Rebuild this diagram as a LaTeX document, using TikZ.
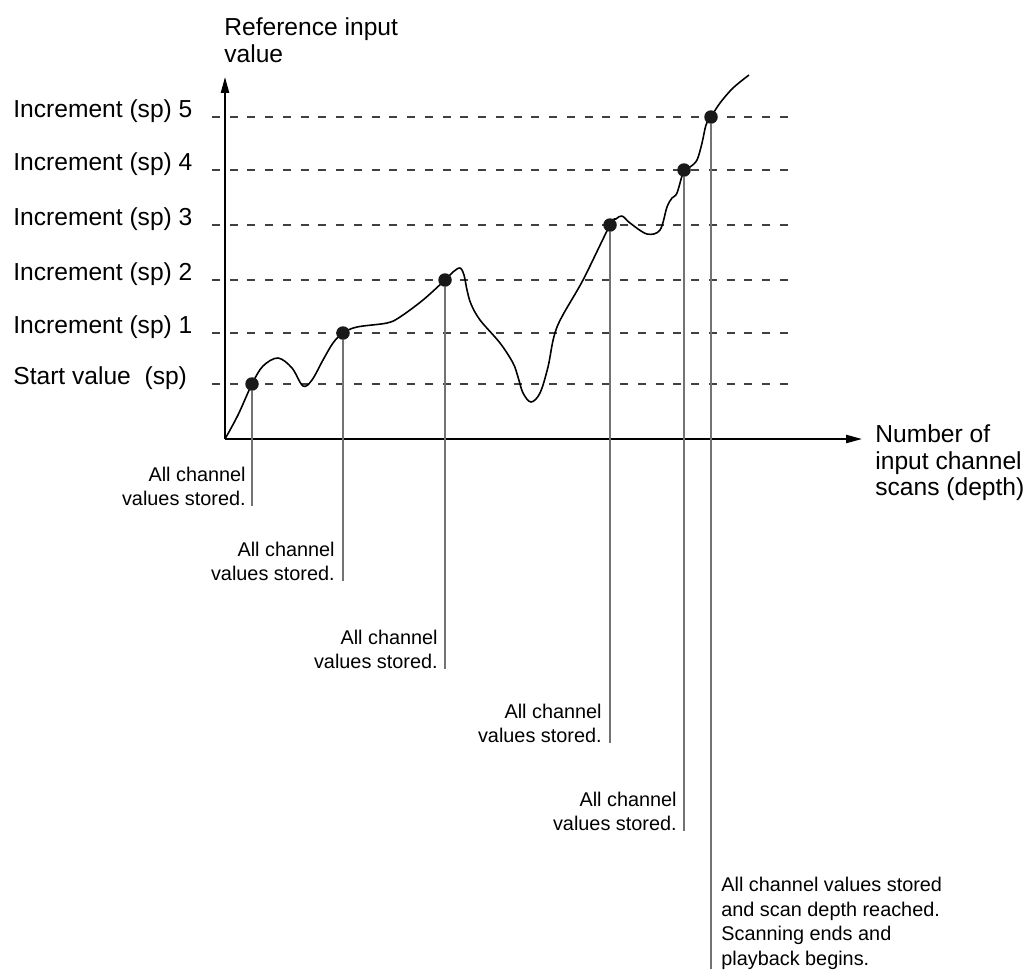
\documentclass[tikz,border=0pt]{standalone}
\usepackage{fontspec}
\setmainfont{Liberation Sans}
\usetikzlibrary{arrows.meta,positioning}

\begin{document}
\begin{tikzpicture}[
    x=0.02cm, y=-0.02cm,
    axis/.style={line width=1pt, -{Triangle[length=9pt, width=4.6pt]}},
    level/.style={dash pattern=on 4.5pt off 5.6pt, line width=1pt, black!75},
    leader/.style={line width=0.6pt, black!55},
    curve/.style={line width=0.9pt, line join=round},
    dot/.style={circle, fill=black!90, inner sep=0pt, minimum size=0.27cm},
    axlabel/.style={inner sep=0pt, font=\fontsize{14}{15.3}\selectfont, align=left},
    lvllabel/.style={inner sep=0pt, font=\fontsize{14}{15.3}\selectfont, anchor=base west},
    note/.style={inner sep=0pt, font=\fontsize{11.3}{13.9}\selectfont, align=right, anchor=south east}
]
\useasboundingbox (0,0) rectangle (1027,974);

% Axes
\coordinate (o) at (225,439);
\coordinate (ytip) at (225,77);
\coordinate (xtip) at (862,439);
\draw[axis] (o) -- (ytip);
\draw[axis] (o) -- (xtip);
\node[axlabel, anchor=north west] (ylab) at (224,17) {Reference input\\value};
\node[axlabel, anchor=north west] (xlab) at (875,424) {Number of\\input channel\\scans (depth)};

% Levels
\node[lvllabel] (s0) at (13,384) {Start value\ \ (sp)};
\node[lvllabel] (s1) at (13,333) {Increment (sp) 1};
\node[lvllabel] (s2) at (13,280) {Increment (sp) 2};
\node[lvllabel] (s3) at (13,225) {Increment (sp) 3};
\node[lvllabel] (s4) at (13,170) {Increment (sp) 4};
\node[lvllabel] (s5) at (13,117) {Increment (sp) 5};
\draw[level] (212,384) -- (797,384);
\draw[level] (212,333) -- (797,333);
\draw[level] (212,280) -- (797,280);
\draw[level] (212,225) -- (797,225);
\draw[level] (212,170) -- (797,170);
\draw[level] (212,117) -- (797,117);

% Input curve
\draw[curve] plot[smooth, tension=0.55] coordinates {
    (225,439) (238,415) (252,384) (263,366) (278,358) (292,368) (303,386)
    (312,380) (323,360) (333,343) (343,333) (357,327) (387,323) (400,317)
    (423,300) (445,280) (453,272) (460,268) (464,275) (467,290) (471,304)
    (480,320) (500,343) (513,363) (518,377) (523,393) (531,402) (540,393)
    (548,367) (557,327) (583,280) (610,225) (616,219) (622,216) (630,223)
    (647,234) (660,230) (667,207) (672,198) (677,193) (684,170) (690,167)
    (697,160) (702,143) (706,125) (711,117) (720,103) (733,88) (749,75)};

% Stored points
\node[dot] (p0) at (252,384) {};
\node[dot] (p1) at (343,333) {};
\node[dot] (p2) at (445,280) {};
\node[dot] (p3) at (610,225) {};
\node[dot] (p4) at (684,170) {};
\node[dot] (p5) at (711,117) {};

% Notes
\node[note] (n0) at (246,506) {All channel\\values stored.};
\node[note] (n1) at (335,581) {All channel\\values stored.};
\node[note] (n2) at (438,669) {All channel\\values stored.};
\node[note] (n3) at (602,743) {All channel\\values stored.};
\node[note] (n4) at (677,831) {All channel\\values stored.};
\node[note, align=left, anchor=north west] (n5) at (721,877)
    {All channel values stored\\and scan depth reached.\\Scanning ends and\\playback begins.};
\draw[leader] (p0) -- (p0 |- n0.south);
\draw[leader] (p1) -- (p1 |- n1.south);
\draw[leader] (p2) -- (p2 |- n2.south);
\draw[leader] (p3) -- (p3 |- n3.south);
\draw[leader] (p4) -- (p4 |- n4.south);
\draw[leader] (p5) -- (p5 |- n5.south);

\end{tikzpicture}
\end{document}
